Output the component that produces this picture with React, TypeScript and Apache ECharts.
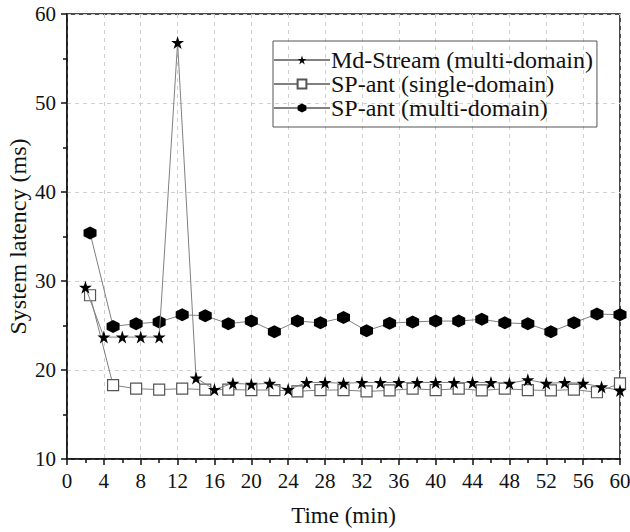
import React, { useEffect, useRef } from "react";
import * as echarts from "echarts";

const seriesNames = [
  "Md-Stream (multi-domain)",
  "SP-ant (single-domain)",
  "SP-ant (multi-domain)",
];

const mdStreamTimes = [2, 4, 6, 8, 10, 12, 14, 16, 18, 20, 22, 24, 26, 28, 30, 32, 34, 36, 38, 40, 42, 44, 46, 48, 50, 52, 54, 56, 58, 60];
const mdStreamLatency = [29.3, 23.7, 23.7, 23.7, 23.7, 56.8, 19.1, 17.8, 18.5, 18.4, 18.5, 17.8, 18.6, 18.6, 18.5, 18.6, 18.6, 18.6, 18.6, 18.6, 18.6, 18.6, 18.6, 18.5, 18.9, 18.5, 18.6, 18.5, 18.1, 17.7];

const spAntTimes = [2.5, 5, 7.5, 10, 12.5, 15, 17.5, 20, 22.5, 25, 27.5, 30, 32.5, 35, 37.5, 40, 42.5, 45, 47.5, 50, 52.5, 55, 57.5, 60];
const spAntSingleLatency = [28.4, 18.3, 17.9, 17.8, 17.9, 17.8, 17.8, 17.75, 17.75, 17.6, 17.75, 17.75, 17.6, 17.7, 17.9, 17.75, 17.9, 17.7, 17.9, 17.75, 17.7, 17.8, 17.5, 18.5];
const spAntMultiLatency = [35.4, 24.9, 25.2, 25.4, 26.2, 26.1, 25.2, 25.5, 24.3, 25.5, 25.3, 25.9, 24.4, 25.25, 25.4, 25.5, 25.5, 25.7, 25.3, 25.2, 24.3, 25.3, 26.3, 26.2];

const xTicks = { min: 0, max: 60, interval: 4 };
const yTicks = { min: 10, max: 60, interval: 10 };

const STAR = "path://M50,0 L61.2,34.5 L97.6,34.5 L68.2,55.9 L79.4,90.5 L50,69.1 L20.6,90.5 L31.8,55.9 L2.4,34.5 L38.8,34.5 Z";
const HEX = "path://M50,0 L93.3,25 L93.3,75 L50,100 L6.7,75 L6.7,25 Z";

const FONT = "Liberation Serif";

function pairs(xs: number[], ys: number[]) {
  return xs.map((x, i) => [x, ys[i]]);
}

export default function App() {
  const ref = useRef<HTMLDivElement>(null);
  useEffect(() => {
    if (!ref.current) return;
    const chart = echarts.init(ref.current, undefined, { renderer: "svg" });
    const lineStyle = { color: "#808080", width: 1 };
    chart.setOption({
      animation: false,
      backgroundColor: "#fff",
      textStyle: { fontFamily: FONT },
      grid: {
        left: 67,
        right: 10,
        top: 14,
        bottom: 73,
        containLabel: false,
        outerBoundsMode: "none",
        show: true,
        borderColor: "#111",
        borderWidth: 1.5,
        backgroundColor: "transparent",
      },
      legend: {
        orient: "vertical",
        left: 273,
        top: 41,
        padding: [7, 4, 7, 0],
        itemGap: 0,
        itemWidth: 56,
        itemHeight: 11,
        borderColor: "#555",
        borderWidth: 1,
        borderRadius: 0,
        textStyle: { fontFamily: FONT, fontSize: 24, lineHeight: 24, color: "#111", padding: [0, 0, 0, -4] },
        data: seriesNames,
      },
      xAxis: {
        type: "value",
        min: xTicks.min,
        max: xTicks.max,
        interval: xTicks.interval,
        name: "Time (min)",
        nameLocation: "middle",
        nameGap: 45,
        nameTextStyle: { fontFamily: FONT, fontSize: 23, color: "#111" },
        axisLine: { show: true, onZero: false, lineStyle: { color: "#111", width: 1.5 } },
        axisTick: { show: true, inside: false, length: 6, lineStyle: { color: "#111", width: 1.5 } },
        minorTick: { show: true, splitNumber: 2, length: 4, lineStyle: { color: "#111", width: 1.5 } },
        axisLabel: { fontFamily: FONT, fontSize: 21, color: "#111", margin: 11 },
        splitLine: { show: true, lineStyle: { color: "#cfcfcf", type: [4, 4], width: 1 } },
      },
      yAxis: {
        type: "value",
        min: yTicks.min,
        max: yTicks.max,
        interval: yTicks.interval,
        name: "System latency (ms)",
        nameLocation: "middle",
        nameGap: 37,
        nameMoveOverlap: false,
        nameTextStyle: { fontFamily: FONT, fontSize: 24, color: "#111" },
        axisLine: { show: true, onZero: false, lineStyle: { color: "#111", width: 1.5 } },
        axisTick: { show: true, inside: false, length: 6, lineStyle: { color: "#111", width: 1.5 } },
        minorTick: { show: true, splitNumber: 2, length: 4, lineStyle: { color: "#111", width: 1.5 } },
        axisLabel: { fontFamily: FONT, fontSize: 21, color: "#111", margin: 11 },
        splitLine: { show: true, lineStyle: { color: "#cfcfcf", type: [4, 4], width: 1 } },
      },
      series: [
        {
          name: seriesNames[0],
          type: "line",
          data: pairs(mdStreamTimes, mdStreamLatency),
          symbol: STAR,
          symbolSize: 13,
          lineStyle,
          itemStyle: { color: "#000", borderColor: "#000", borderWidth: 0 },
          z: 4,
        },
        {
          name: seriesNames[1],
          type: "line",
          data: pairs(spAntTimes, spAntSingleLatency),
          symbol: "rect",
          symbolSize: 11,
          lineStyle,
          itemStyle: { color: "#fff", borderColor: "#555", borderWidth: 1.2 },
          z: 3,
        },
        {
          name: seriesNames[2],
          type: "line",
          data: pairs(spAntTimes, spAntMultiLatency),
          symbol: HEX,
          symbolSize: 13,
          lineStyle,
          itemStyle: { color: "#000", borderColor: "#000", borderWidth: 0 },
          z: 2,
        },
      ],
    });
    return () => chart.dispose();
  }, []);
  return <div ref={ref} style={{ width: 630, height: 532, position: "absolute", left: 0, top: 0 }} />;
}
